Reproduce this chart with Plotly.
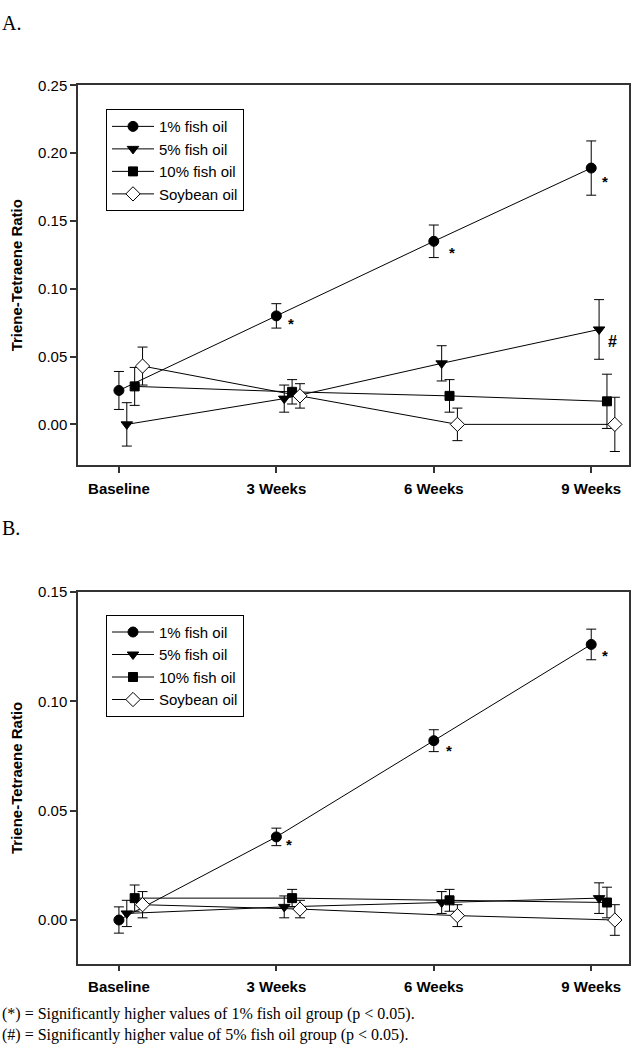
import plotly.graph_objects as go

categories = ["Baseline", "3 Weeks", "6 Weeks", "9 Weeks"]
series_names = ["1% fish oil", "5% fish oil", "10% fish oil", "Soybean oil"]

# Panel A
a_fish1 = [0.025, 0.080, 0.135, 0.189]
a_fish1_err = [0.014, 0.009, 0.012, 0.020]
a_fish5 = [0.000, 0.019, 0.045, 0.070]
a_fish5_err = [0.016, 0.010, 0.013, 0.022]
a_fish10 = [0.028, 0.024, 0.021, 0.017]
a_fish10_err = [0.014, 0.009, 0.012, 0.020]
a_soy = [0.043, 0.021, 0.000, 0.000]
a_soy_err = [0.014, 0.009, 0.012, 0.020]

# Panel B
b_fish1 = [0.000, 0.038, 0.082, 0.126]
b_fish1_err = [0.006, 0.004, 0.005, 0.007]
b_fish5 = [0.003, 0.006, 0.008, 0.010]
b_fish5_err = [0.006, 0.005, 0.005, 0.007]
b_fish10 = [0.010, 0.010, 0.009, 0.008]
b_fish10_err = [0.006, 0.004, 0.005, 0.007]
b_soy = [0.007, 0.005, 0.002, 0.000]
b_soy_err = [0.006, 0.004, 0.005, 0.007]

y_ticks_a = [0.00, 0.05, 0.10, 0.15, 0.20, 0.25]
y_ticks_b = [0.00, 0.05, 0.10, 0.15]

y_title = "Triene-Tetraene Ratio"
footnote1 = "(*) = Significantly higher values of 1% fish oil group (p < 0.05)."
footnote2 = "(#) = Significantly higher value of 5% fish oil group (p < 0.05)."

# styles
W, H = 644, 1050
dodge = [0.0, 0.05, 0.10, 0.15]
styles = [
    dict(symbol="circle", size=10, color="black"),
    dict(symbol="triangle-down", size=10, color="black"),
    dict(symbol="square", size=9, color="black"),
    dict(symbol="diamond", size=11, color="white"),
]
SANS = "Liberation Sans, Arial, sans-serif"
SERIF = "Liberation Serif, Times New Roman, serif"

fig = go.Figure()

panels = [
    dict(vals=[a_fish1, a_fish5, a_fish10, a_soy],
         errs=[a_fish1_err, a_fish5_err, a_fish10_err, a_soy_err],
         xa="x", ya="y", legend="legend"),
    dict(vals=[b_fish1, b_fish5, b_fish10, b_soy],
         errs=[b_fish1_err, b_fish5_err, b_fish10_err, b_soy_err],
         xa="x2", ya="y2", legend="legend2"),
]

for p in panels:
    for k, (name, vals, errs) in enumerate(zip(series_names, p["vals"], p["errs"])):
        st = styles[k]
        fig.add_trace(go.Scatter(
            x=[i + dodge[k] for i in range(len(categories))],
            y=vals,
            name=name,
            mode="lines+markers",
            line=dict(color="black", width=1),
            marker=dict(symbol=st["symbol"], size=st["size"], color=st["color"],
                        line=dict(color="black", width=1)),
            error_y=dict(type="data", array=errs, visible=True, color="black",
                         thickness=1, width=5),
            xaxis=p["xa"], yaxis=p["ya"], legend=p["legend"],
        ))

# significance marks: (panel values, series index, point index, text, xshift, yshift)
sig_marks = [
    (a_fish1, 0, 1, "*", 15, -8, "x", "y"),
    (a_fish1, 0, 2, "*", 18, -11, "x", "y"),
    (a_fish1, 0, 3, "*", 14, -13, "x", "y"),
    (a_fish5, 1, 3, "#", 13, -12, "x", "y"),
    (b_fish1, 0, 1, "*", 13, -8, "x2", "y2"),
    (b_fish1, 0, 2, "*", 15, -10, "x2", "y2"),
    (b_fish1, 0, 3, "*", 14, -11, "x2", "y2"),
]
for vals, k, i, txt, xs, ys, xr, yr in sig_marks:
    fig.add_annotation(x=i + dodge[k], y=vals[i], xref=xr, yref=yr, text=txt,
                       showarrow=False, xshift=xs, yshift=ys,
                       font=dict(family=SANS, size=15 if txt == "*" else 16,
                                 color="black", weight="bold"))

xdom = [78 / W, 629 / W]
ydom_a = [1 - 460 / H, 1 - 77 / H]
ydom_b = [1 - 963 / H, 1 - 588 / H]

common_x = dict(
    tickmode="array", tickvals=list(range(len(categories))), ticktext=categories,
    range=[-0.26, 3.24], showline=True, linecolor="#333", linewidth=1.5,
    mirror=True, ticks="outside", ticklen=6, tickwidth=1.5, tickcolor="#333",
    showgrid=False, zeroline=False, ticklabelstandoff=3,
    tickfont=dict(family=SANS, size=15, color="black", weight="bold"),
)
common_y = dict(
    showline=True, linecolor="#333", linewidth=1.5, mirror=True,
    ticks="outside", ticklen=6, tickwidth=1.5, tickcolor="#333",
    showgrid=False, zeroline=False, tickformat=".2f",
    tickfont=dict(family=SANS, size=15, color="black"),
)

legend_common = dict(
    xanchor="left", yanchor="top", bgcolor="white", bordercolor="black",
    borderwidth=1, font=dict(family=SANS, size=15, color="black"),
    itemclick=False, tracegroupgap=0, itemwidth=42,
    entrywidth=118, entrywidthmode="pixels",
)

fig.update_layout(
    width=W, height=H,
    margin=dict(l=0, r=0, t=0, b=0),
    paper_bgcolor="white", plot_bgcolor="white",
    showlegend=True,
    xaxis=dict(domain=xdom, anchor="y", **common_x),
    yaxis=dict(domain=ydom_a, anchor="x", range=[-0.03, 0.25],
               tickvals=y_ticks_a,
               title=dict(text=y_title, standoff=12,
                          font=dict(family=SANS, size=15, color="black", weight="bold")),
               **common_y),
    xaxis2=dict(domain=xdom, anchor="y2", **common_x),
    yaxis2=dict(domain=ydom_b, anchor="x2", range=[-0.02, 0.15],
                tickvals=y_ticks_b,
                title=dict(text=y_title, standoff=12,
                           font=dict(family=SANS, size=15, color="black", weight="bold")),
                **common_y),
    legend=dict(x=106 / W, y=1 - 101 / H, **legend_common),
    legend2=dict(x=106 / W, y=1 - 611 / H, **legend_common),
)

# panel labels and footnotes
fig.add_annotation(text="A.", xref="paper", yref="paper", x=0, y=1 - 1 / H,
                   xanchor="left", yanchor="top", showarrow=False,
                   font=dict(family=SERIF, size=20, color="black"))
fig.add_annotation(text="B.", xref="paper", yref="paper", x=0, y=1 - 510 / H,
                   xanchor="left", yanchor="top", showarrow=False,
                   font=dict(family=SERIF, size=20, color="black"))
fig.add_annotation(text=footnote1, xref="paper", yref="paper", x=0, y=1 - 1014 / H,
                   xanchor="left", yanchor="middle", showarrow=False,
                   font=dict(family=SERIF, size=16, color="black"))
fig.add_annotation(text=footnote2, xref="paper", yref="paper", x=0, y=1 - 1035 / H,
                   xanchor="left", yanchor="middle", showarrow=False,
                   font=dict(family=SERIF, size=16, color="black"))

fig.write_html("out.html", config={"displayModeBar": False},
               post_script="document.body.style.margin='0';")
